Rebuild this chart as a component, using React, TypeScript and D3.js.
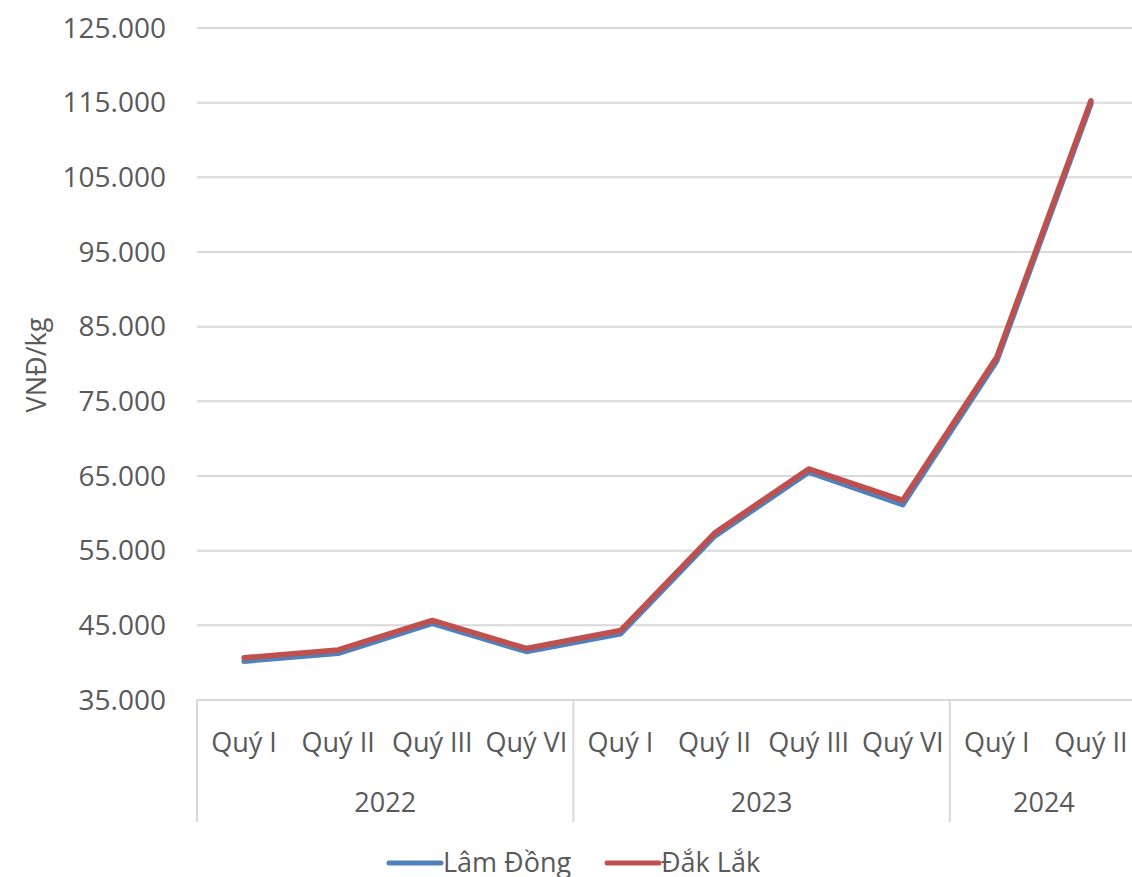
import React from "react";
import * as d3 from "d3";

const quarters = ["Quý I", "Quý II", "Quý III", "Quý VI", "Quý I", "Quý II", "Quý III", "Quý VI", "Quý I", "Quý II"];
const years = ["2022", "2023", "2024"];
const yearCounts = [4, 4, 2];
const lamDong = [40200, 41250, 45250, 41500, 43850, 56950, 65500, 61150, 80450, 114850];
const dakLak = [40650, 41700, 45650, 41900, 44300, 57350, 65950, 61750, 80950, 115250];
const yTicks = [35000, 45000, 55000, 65000, 75000, 85000, 95000, 105000, 115000, 125000];
const seriesNames = ["Lâm Đồng", "Đắk Lắk"];
const colors = ["#4F81BD", "#C0504D"];

const W = 1132, H = 877;
const left = 197, top = 28, bottom = 700;
const band = 94.1;
const right = left + band * quarters.length;

export default function App() {
  const x = d3.scaleBand<number>().domain(d3.range(quarters.length)).range([left, right]).padding(0);
  const y = d3.scaleLinear().domain([35000, 125000]).range([bottom, top]);
  const fmt = (v: number) => d3.format(",")(v).replace(/,/g, ".");
  const cx = (i: number) => (x(i) as number) + x.bandwidth() / 2;
  const line = d3.line<number>().x((_, i) => cx(i)).y((d) => y(d));
  const font = "'Open Sans', sans-serif";
  const txt = "#595959";

  const bounds: number[] = [0];
  yearCounts.forEach((c, i) => bounds.push(bounds[i] + c));
  const bx = (b: number) => (b === quarters.length ? right : (x(b) as number));

  return (
    <svg width={W} height={H} style={{ position: "absolute", left: 0, top: 0, background: "#fff" }} fontFamily={font}>
      {yTicks.map((t) => (
        <g key={t}>
          <line x1={left} x2={W} y1={y(t)} y2={y(t)} stroke="#D9D9D9" strokeWidth={2} />
          <text x={166} y={y(t)} dy="0.35em" textAnchor="end" fontSize={28} fill={txt}>{fmt(t)}</text>
        </g>
      ))}
      {bounds.map((b, i) => (
        <line key={i} x1={bx(b)} x2={bx(b)} y1={bottom} y2={822} stroke="#D9D9D9" strokeWidth={2} />
      ))}
      {quarters.map((q, i) => (
        <text key={i} x={cx(i)} y={743} dy="0.35em" textAnchor="middle" fontSize={27} fill={txt}>{q}</text>
      ))}
      {years.map((yr, i) => (
        <text key={yr} x={(bx(bounds[i]) + bx(bounds[i + 1])) / 2} y={803} dy="0.35em" textAnchor="middle" fontSize={27} fill={txt}>{yr}</text>
      ))}
      <text transform={`translate(37,365) rotate(-90)`} dy="0.35em" textAnchor="middle" fontSize={27} fill={txt}>VNĐ/kg</text>
      {[lamDong, dakLak].map((s, k) => (
        <path key={k} d={line(s) || ""} fill="none" stroke={colors[k]} strokeWidth={5.5} strokeLinejoin="round" strokeLinecap="round" />
      ))}
      <g>
        <line x1={389} x2={441} y1={863} y2={863} stroke={colors[0]} strokeWidth={5} strokeLinecap="round" />
        <text x={443} y={863} dy="0.35em" fontSize={27} fill={txt}>{seriesNames[0]}</text>
        <line x1={607} x2={659} y1={863} y2={863} stroke={colors[1]} strokeWidth={5} strokeLinecap="round" />
        <text x={661} y={863} dy="0.35em" fontSize={27} fill={txt}>{seriesNames[1]}</text>
      </g>
    </svg>
  );
}
